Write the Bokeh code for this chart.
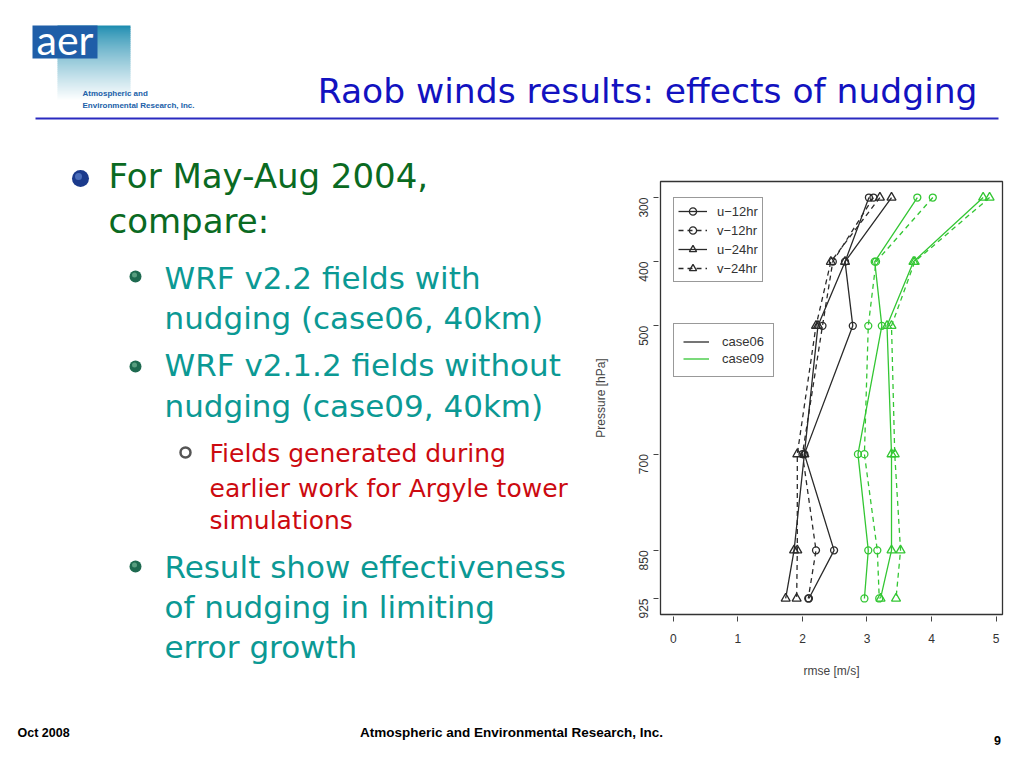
import math
from bokeh.plotting import figure
from bokeh.layouts import column, row
from bokeh.models import Range1d, FixedTicker, Legend, LegendItem, ColumnDataSource
from bokeh.core.properties import value
from bokeh.embed import file_html
from bokeh.resources import INLINE

# ---------------- data ----------------
pressure = [300, 400, 500, 700, 850, 925]
x_ticks = [0, 1, 2, 3, 4, 5]
y_ticks = [300, 400, 500, 700, 850, 925]

case06_u12 = [3.03, 2.66, 2.78, 2.03, 2.49, 2.10]
case06_v12 = [3.10, 2.47, 2.31, 2.00, 2.21, 2.09]
case06_u24 = [3.38, 2.66, 2.24, 2.03, 1.87, 1.74]
case06_v24 = [3.20, 2.44, 2.21, 1.92, 1.92, 1.91]

case09_u12 = [3.78, 3.12, 3.23, 2.86, 3.02, 2.96]
case09_v12 = [4.02, 3.14, 3.02, 2.96, 3.16, 3.19]
case09_u24 = [4.80, 3.72, 3.31, 3.38, 3.38, 3.21]
case09_v24 = [4.90, 3.74, 3.38, 3.43, 3.52, 3.45]

series_names = ["u\u221212hr", "v\u221212hr", "u\u221224hr", "v\u221224hr"]
case_names = ["case06", "case09"]

BLACK = "#2a2a2a"
GREEN = "#33c633"

W, H = 1008, 752
TOP_H, MID_H = 130, 580
BOT_H = H - TOP_H - MID_H
LEFT_W = 590
CHART_W = W - LEFT_W


def deco_fig(w, h):
    f = figure(width=w, height=h, output_backend="svg", toolbar_location=None,
               x_range=Range1d(0, w), y_range=Range1d(h, 0),
               x_axis_type=None, y_axis_type=None, min_border=0, frame_align=False,
               background_fill_color="white", border_fill_color="white")
    f.grid.visible = False
    f.outline_line_color = None
    return f


def put_text(f, txt, x, y, size, color, font, style="normal", align="left"):
    f.text(x=[x], y=[y], text=[txt], text_font=value(font), text_font_size=value(f"{size}px"),
           text_color=color, text_font_style=style, text_align=align, text_baseline="middle")


# ---------------- chart figure ----------------
FL, FR, FT, FB = 657, 1002, 181, 614  # frame edges in page px
p = figure(width=CHART_W, height=MID_H, output_backend="svg", toolbar_location=None,
           x_range=Range1d(-0.2, 5.1), y_range=Range1d(950, 275), frame_align=False,
           min_border_left=FL - LEFT_W, min_border_right=W - FR,
           min_border_top=FT - TOP_H, min_border_bottom=TOP_H + MID_H - FB,
           background_fill_color="white", border_fill_color="white")
p.grid.visible = False
p.outline_line_color = "#333333"
p.outline_line_width = 1.3

for ax in (p.xaxis[0], p.yaxis[0]):
    ax.axis_line_color = None
    ax.minor_tick_line_color = None
    ax.major_tick_in = -2
    ax.major_tick_out = 7
    ax.major_tick_line_color = "#444444"
    ax.major_label_text_font = "Liberation Sans"
    ax.major_label_text_font_size = "12px"
    ax.major_label_text_color = "#333333"
    ax.axis_label_text_font = "Liberation Sans"
    ax.axis_label_text_font_size = "12px"
    ax.axis_label_text_font_style = "normal"
    ax.axis_label_text_color = "#444444"

p.xaxis.ticker = FixedTicker(ticks=x_ticks)
p.yaxis.ticker = FixedTicker(ticks=y_ticks)
p.xaxis.major_label_standoff = 12
p.yaxis.major_label_standoff = 10
p.yaxis.major_label_orientation = math.pi / 2
p.xaxis.axis_label = "rmse [m/s]"
p.yaxis.axis_label = "Pressure [hPa]"
p.xaxis.axis_label_standoff = 18
p.yaxis.axis_label_standoff = 24

styles = [("solid", "circle", 7), ("5 4", "circle", 7), ("solid", "triangle", 9), ("5 4", "triangle", 9)]
renderers = {}
for case, color, arrays in [("case06", BLACK, [case06_u12, case06_v12, case06_u24, case06_v24]),
                            ("case09", GREEN, [case09_u12, case09_v12, case09_u24, case09_v24])]:
    for k, (vals, (dash, marker, size)) in enumerate(zip(arrays, styles)):
        src = ColumnDataSource(dict(x=vals, y=pressure))
        lr = p.line("x", "y", source=src, line_color=color, line_dash=dash, line_width=1.3)
        sr = p.scatter("x", "y", source=src, marker=marker, size=size, fill_color=None,
                       line_color=color, line_width=1.3)
        renderers[(case, k)] = (lr, sr)

items1 = [LegendItem(label=name, renderers=list(renderers[("case06", k)]))
          for k, name in enumerate(series_names)]
leg1 = Legend(items=items1, location=(13, 332), padding=4, spacing=1, margin=0,
              label_height=18, glyph_height=18, glyph_width=29, label_standoff=10,
              label_text_font="Liberation Sans", label_text_font_size="13px", label_text_color="#333333",
              border_line_color="#333333", border_line_width=1.2,
              background_fill_color="white", background_fill_alpha=1.0)
p.add_layout(leg1)

items2 = [LegendItem(label=case_names[0], renderers=[renderers[("case06", 0)][0]]),
          LegendItem(label=case_names[1], renderers=[renderers[("case09", 0)][0]])]
leg2 = Legend(items=items2, location=(13, 237), padding=9, spacing=0, margin=0,
              label_height=17, glyph_height=17, glyph_width=26, label_standoff=13,
              label_text_font="Liberation Sans", label_text_font_size="13px", label_text_color="#333333",
              border_line_color="#333333", border_line_width=1.2,
              background_fill_color="white", background_fill_alpha=1.0)
p.add_layout(leg2)

# ---------------- top band: logo, title, rule ----------------
top = deco_fig(W, TOP_H)
n = 38
c0 = (0x1f, 0x8d, 0xb0)
strip_top = [25 + i * 2 for i in range(n)]
strip_col = []
for i in range(n):
    t = (i / (n - 1)) ** 0.8
    strip_col.append("#%02x%02x%02x" % tuple(int(round(c + (255 - c) * t)) for c in c0))
top.quad(left=[57] * n, right=[130] * n, top=strip_top, bottom=[y + 2.6 for y in strip_top],
         fill_color=strip_col, line_color=None)
top.quad(left=[32], right=[97], top=[25], bottom=[58], fill_color="#1f5ea8", line_color=None)
put_text(top, "aer", 36, 39, 41, "white", "Lato")
put_text(top, "Atmospheric and", 82, 93, 8, "#2060a8", "Liberation Sans", "bold")
put_text(top, "Environmental Research, Inc.", 82, 105, 8, "#2060a8", "Liberation Sans", "bold")
put_text(top, "Raob winds results: effects of nudging", 977, 90, 34.5, "#1212c0", "DejaVu Sans", align="right")
top.quad(left=[35], right=[998], top=[117], bottom=[119], fill_color="#2a2ac0", line_color=None)

# ---------------- left text panel ----------------
left = deco_fig(LEFT_W, MID_H)
o = TOP_H
GREEN_T = "#0a6a22"
TEAL = "#0b9994"
RED = "#cc0a10"

left.scatter(x=[80], y=[178 - o], size=17, fill_color="#1b3a8c", line_color=None)
left.scatter(x=[78], y=[176 - o], size=7, fill_color="#6a90d8", fill_alpha=0.6, line_color=None)
gy = [276 - o, 366 - o, 566 - o]
left.scatter(x=[135] * 3, y=gy, size=12, fill_color="#1e6a50", line_color=None)
left.scatter(x=[134] * 3, y=[v - 1.5 for v in gy], size=5, fill_color="#7fc2a0", fill_alpha=0.6, line_color=None)
left.scatter(x=[185], y=[452 - o], size=10, fill_color="white", line_color="#555555", line_width=2.5)

put_text(left, "For May-Aug 2004,", 108, 175 - o, 34, GREEN_T, "DejaVu Sans")
put_text(left, "compare:", 108, 220 - o, 34, GREEN_T, "DejaVu Sans")
put_text(left, "WRF v2.2 fields with", 164, 277 - o, 31, TEAL, "DejaVu Sans")
put_text(left, "nudging (case06, 40km)", 164, 317 - o, 31, TEAL, "DejaVu Sans")
put_text(left, "WRF v2.1.2 fields without", 164, 364 - o, 31, TEAL, "DejaVu Sans")
put_text(left, "nudging (case09, 40km)", 164, 405 - o, 31, TEAL, "DejaVu Sans")
put_text(left, "Fields generated during", 209, 453 - o, 25, RED, "DejaVu Sans")
put_text(left, "earlier work for Argyle tower", 209, 488 - o, 25, RED, "DejaVu Sans")
put_text(left, "simulations", 209, 520 - o, 25, RED, "DejaVu Sans")
put_text(left, "Result show effectiveness", 164, 566 - o, 31, TEAL, "DejaVu Sans")
put_text(left, "of nudging in limiting", 164, 606 - o, 31, TEAL, "DejaVu Sans")
put_text(left, "error growth", 164, 646 - o, 31, TEAL, "DejaVu Sans")

# ---------------- footer ----------------
bot = deco_fig(W, BOT_H)
ob = TOP_H + MID_H
put_text(bot, "Oct 2008", 17, 732 - ob, 12.5, "black", "Liberation Sans", "bold")
put_text(bot, "Atmospheric and Environmental Research, Inc.", 511, 732 - ob, 13.5, "black",
         "Liberation Sans", "bold", align="center")
put_text(bot, "9", 997, 740 - ob, 12.5, "black", "Liberation Sans", "bold", align="center")

layout = column(top, row(left, p, spacing=0), bot, spacing=0)
open("out.html", "w").write(file_html(layout, INLINE))
